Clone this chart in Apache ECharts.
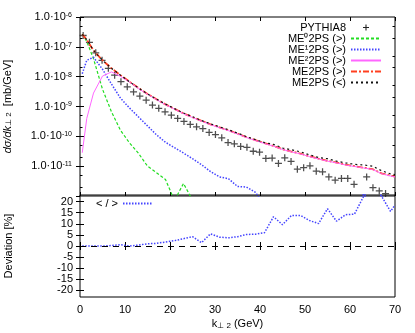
<!DOCTYPE html>
<html>
<head>
<meta charset="utf-8">
<script src="https://cdn.jsdelivr.net/npm/echarts@6/dist/echarts.min.js"></script>
<style>
html, body { margin: 0; padding: 0; background: #fff; }
#chart { width: 415px; height: 333px; }
</style>
</head>
<body>
<div id="chart"></div>
<script>
// k_perp2 points (GeV) of the merged curves and of the deviation
var kCurve = [0.5, 1.5, 3, 5, 7, 9, 11, 13, 15, 17, 19, 21, 23, 25, 27, 29, 31, 33, 35,
  37, 39, 41, 43, 45, 47, 49, 51, 53, 55, 57, 59, 61, 63, 65, 67, 69, 70];
// PYTHIA8 bin centres (GeV)
var kPythia = [0.7, 2.1, 3.5, 4.9, 6.3, 7.7, 9.1, 10.5, 11.9, 13.3, 14.7, 16.1, 17.5, 18.9,
  20.3, 21.7, 23.1, 24.5, 25.9, 27.3, 28.7, 30.1, 31.5, 32.9, 34.3, 35.7, 37.1, 38.5, 39.9,
  41.3, 42.7, 44.1, 45.5, 46.9, 48.3, 49.7, 51.1, 52.5, 53.9, 55.3, 56.7, 58.1, 59.5, 60.9,
  62.3, 63.7, 65.1, 66.5, 67.9, 69.3];

// dsigma/dk values, stored as log10 of mb/GeV
var pythia8Exp = [-6.62, -6.85, -7.20, -7.45, -7.72, -7.95, -8.17, -8.34, -8.51, -8.65,
  -8.79, -8.95, -9.06, -9.18, -9.29, -9.40, -9.50, -9.60, -9.68, -9.74, -9.87, -9.94,
  -10.05, -10.21, -10.25, -10.34, -10.37, -10.50, -10.53, -10.74, -10.73, -10.91, -10.72,
  -10.84, -11.10, -11.05, -10.99, -11.17, -11.19, -11.36, -11.47, -11.41, -11.41, -11.61,
  null, -11.36, -11.72, -11.83, -11.92, null];
var me0Exp = [-6.57, -6.82, -7.40, -8.42, -9.18, -9.80, -10.22, -10.57, -11.00, -11.22,
  -11.45, -12.15, -11.58, -12.14, -13, -13, -13, -13, -13, -13, -13, -13, -13, -13, -13,
  -13, -13, -13, -13, -13, -13, -13, -13, -13, -13, -13, -13];
var me1Exp = [-7.90, -7.45, -7.35, -7.75, -8.25, -8.72, -9.05, -9.35, -9.65, -9.95, -10.20,
  -10.38, -10.56, -10.75, -10.95, -11.18, -11.36, -11.42, -11.68, -11.70, -11.88, -12.3,
  -12.5, -12.5, -12.5, -12.5, -12.5, -12.5, -12.5, -12.5, -12.5, -12.3, -11.95, -12.3,
  -11.96, -12.5, -12.5];
var me2Exp = [-10.55, -9.40, -8.55, -7.98, -7.84, -7.99, -8.18, -8.40, -8.59, -8.77, -8.94,
  -9.09, -9.24, -9.37, -9.49, -9.61, -9.71, -9.81, -9.92, -10.04, -10.14, -10.24, -10.33,
  -10.44, -10.52, -10.59, -10.68, -10.76, -10.83, -10.89, -10.96, -11.01, -11.06, -11.11,
  -11.25, -11.33, -11.36];
var me2psGtExp = [-6.58, -6.76, -7.12, -7.45, -7.72, -7.95, -8.17, -8.38, -8.58, -8.76,
  -8.93, -9.08, -9.23, -9.36, -9.48, -9.60, -9.70, -9.80, -9.91, -10.03, -10.13, -10.23,
  -10.32, -10.43, -10.51, -10.58, -10.67, -10.75, -10.82, -10.88, -10.95, -11.00, -11.05,
  -11.10, -11.24, -11.32, -11.35];
var me2psLtExp = [-6.58, -6.76, -7.12, -7.45, -7.72, -7.95, -8.17, -8.38, -8.58, -8.75,
  -8.92, -9.07, -9.22, -9.34, -9.47, -9.58, -9.68, -9.78, -9.89, -10.01, -10.11, -10.21,
  -10.27, -10.39, -10.45, -10.52, -10.62, -10.71, -10.75, -10.83, -10.89, -10.94, -10.96,
  -11.00, -11.15, -11.26, -11.28];
// (<)/(>) deviation in percent
var deviation = [0, 0, 0, 0, 0.2, 0.6, 0, 0.4, 1.0, 1.2, 1.8, 2.4, 3.3, 4.2, 1.5, 5.5, 4.0,
  3.7, 4.2, 5.2, 5.3, 6.0, 13.2, 9.6, 13.8, 13.8, 11.5, 10.1, 16.8, 11.2, 14.1, 14.4, 22.3,
  27, 22.5, 15.6, 18.5];
var devTicks = [-20, -15, -10, -5, 0, 5, 10, 15, 20];
var logMinorTicks = [2e-12, 5e-12, 2e-11, 5e-11, 2e-10, 5e-10, 2e-9, 5e-9, 2e-8, 5e-8, 2e-7, 5e-7];

function toPairs(xs, exps) {
  var out = [];
  xs.forEach(function (x, i) {
    if (exps[i] !== null) out.push([x, Math.pow(10, exps[i])]);
  });
  return out;
}

var chart = echarts.init(document.getElementById('chart'));
var font = 'Liberation Sans';
var tick = { inside: true, length: 4, lineStyle: { color: '#000' } };
var plusPath = 'path://M4.1,0H5.9V4.1H10V5.9H5.9V10H4.1V5.9H0V4.1H4.1Z';

function xAx(grid, pos, labels) {
  return {
    type: 'value', gridIndex: grid, position: pos, min: 0, max: 70, interval: 10,
    axisLine: { show: false }, splitLine: { show: false }, axisTick: tick,
    axisLabel: { show: labels, color: '#000', fontFamily: font, fontSize: 11, margin: 7 }
  };
}
function minorLogAx(pos) {
  return {
    type: 'log', gridIndex: 0, position: pos, logBase: 10, min: 1e-12, max: 1e-6,
    axisLine: { show: false }, splitLine: { show: false }, axisLabel: { show: false },
    axisTick: { inside: true, length: 2.5, customValues: logMinorTicks, lineStyle: { color: '#000' } }
  };
}

var option = {
  animation: false,
  textStyle: { fontFamily: font },
  grid: [
    { left: 80, top: 17, width: 315, height: 179, show: true, borderColor: '#000', borderWidth: 1,
      outerBoundsMode: 'none', containLabel: false },
    { left: 80, top: 195, width: 315, height: 102, show: true, borderColor: '#000', borderWidth: 1,
      outerBoundsMode: 'none', containLabel: false }
  ],
  legend: [{
    orient: 'vertical', right: 28, top: 17, align: 'right', itemWidth: 30, itemHeight: 6,
    itemGap: 0, itemStyle: { opacity: 0 },
    textStyle: { fontSize: 11, lineHeight: 11, color: '#000', fontFamily: font },
    data: [{ name: 'PYTHIA8', itemStyle: { opacity: 1 } }, 'ME\u20702PS (>)', 'ME\u00b92PS (>)',
      'ME\u00b22PS (>)', 'ME2PS (>)', 'ME2PS (<)']
  }, {
    orient: 'horizontal', left: 91, top: 193, align: 'right', itemWidth: 30, itemHeight: 6,
    itemStyle: { opacity: 0 },
    textStyle: { fontSize: 11, lineHeight: 11, color: '#000', fontFamily: font },
    data: ['< / >']
  }],
  xAxis: [
    xAx(0, 'bottom', false),
    xAx(0, 'top', false),
    Object.assign(xAx(1, 'bottom', true), {
      name: 'k{sub|\u22a5 2} (GeV)', nameLocation: 'middle', nameGap: 20,
      nameTextStyle: { fontSize: 11, color: '#000', fontFamily: font,
        rich: { sub: { fontSize: 8, lineHeight: 8, verticalAlign: 'bottom', padding: [6, 0, 0, 0] } } }
    }),
    xAx(1, 'top', false)
  ],
  yAxis: [{
    type: 'log', gridIndex: 0, position: 'left', logBase: 10, min: 1e-12, max: 1e-6, splitNumber: 6,
    axisLine: { show: false }, splitLine: { show: false }, axisTick: tick,
    axisLabel: {
      color: '#000', fontFamily: font, fontSize: 11, margin: 8, showMinLabel: false,
      formatter: function (v) {
        return '1.0\u00b710{sup|' + Math.round(Math.log10(v)) + '}';
      },
      rich: { sup: { fontSize: 7, lineHeight: 7, verticalAlign: 'top', padding: [0, 0, 6, 0] } }
    },
    name: '{it|d\u03c3/dk}{sub|\u22a5 2}  [mb/GeV]', nameLocation: 'middle', nameGap: 67,
    nameTextStyle: { fontSize: 11, color: '#000', fontFamily: font,
      rich: { it: { fontStyle: 'italic', fontSize: 11 },
        sub: { fontSize: 8, lineHeight: 8, verticalAlign: 'bottom', padding: [6, 0, 0, 0] } } }
  }, {
    type: 'log', gridIndex: 0, position: 'right', logBase: 10, min: 1e-12, max: 1e-6, splitNumber: 6,
    axisLine: { show: false }, splitLine: { show: false }, axisTick: tick, axisLabel: { show: false }
  }, {
    type: 'value', gridIndex: 1, position: 'left', min: -23, max: 23,
    axisLine: { show: false }, splitLine: { show: false },
    axisTick: Object.assign({ customValues: devTicks }, tick),
    axisLabel: { customValues: devTicks, color: '#000', fontFamily: font, fontSize: 11, margin: 7 },
    name: 'Deviation [%]', nameLocation: 'middle', nameGap: 66,
    nameTextStyle: { fontSize: 11, color: '#000', fontFamily: font }
  }, {
    type: 'value', gridIndex: 1, position: 'right', min: -23, max: 23,
    axisLine: { show: false }, splitLine: { show: false },
    axisTick: Object.assign({ customValues: devTicks }, tick),
    axisLabel: { show: false, customValues: devTicks }
  },
  minorLogAx('left'),
  minorLogAx('right')],
  series: [{
    name: 'ME\u20702PS (>)', type: 'line', xAxisIndex: 0, yAxisIndex: 0, symbol: 'none',
    color: '#22dd22', lineStyle: { width: 1.2, type: [3, 2], color: '#22dd22' },
    data: toPairs(kCurve, me0Exp)
  }, {
    name: 'ME\u00b92PS (>)', type: 'line', xAxisIndex: 0, yAxisIndex: 0, symbol: 'none',
    color: '#4444ff', lineStyle: { width: 1.5, type: [1.5, 1.5], color: '#4444ff' },
    data: toPairs(kCurve, me1Exp)
  }, {
    name: 'ME2PS (>)', type: 'line', xAxisIndex: 0, yAxisIndex: 0, symbol: 'none',
    color: '#ff4020', lineStyle: { width: 1.8, type: [6, 2, 2, 2], color: '#ff4020' },
    data: toPairs(kCurve, me2psGtExp)
  }, {
    name: 'ME\u00b22PS (>)', type: 'line', xAxisIndex: 0, yAxisIndex: 0, symbol: 'none',
    color: '#ff66ff', lineStyle: { width: 1, color: '#ff66ff' },
    data: toPairs(kCurve, me2Exp)
  }, {
    name: 'ME2PS (<)', type: 'line', xAxisIndex: 0, yAxisIndex: 0, symbol: 'none',
    color: '#111', lineStyle: { width: 1.2, type: [2, 3], color: '#111' },
    data: toPairs(kCurve, me2psLtExp)
  }, {
    name: 'PYTHIA8', type: 'scatter', xAxisIndex: 0, yAxisIndex: 0,
    symbol: plusPath, symbolSize: 7, itemStyle: { color: '#222' },
    data: toPairs(kPythia, pythia8Exp)
  }, {
    name: '< / >', type: 'line', xAxisIndex: 2, yAxisIndex: 2, symbol: 'none',
    color: '#4444ff', lineStyle: { width: 1.5, type: [1.5, 1.5], color: '#4444ff' },
    data: kCurve.map(function (k, i) { return [k, deviation[i]]; }),
    markLine: {
      silent: true, symbol: 'none', label: { show: false },
      lineStyle: { color: '#000', type: [6, 5], width: 1.2 },
      data: [{ yAxis: 0 }]
    }
  }]
};
chart.setOption(option);
</script>
</body>
</html>
